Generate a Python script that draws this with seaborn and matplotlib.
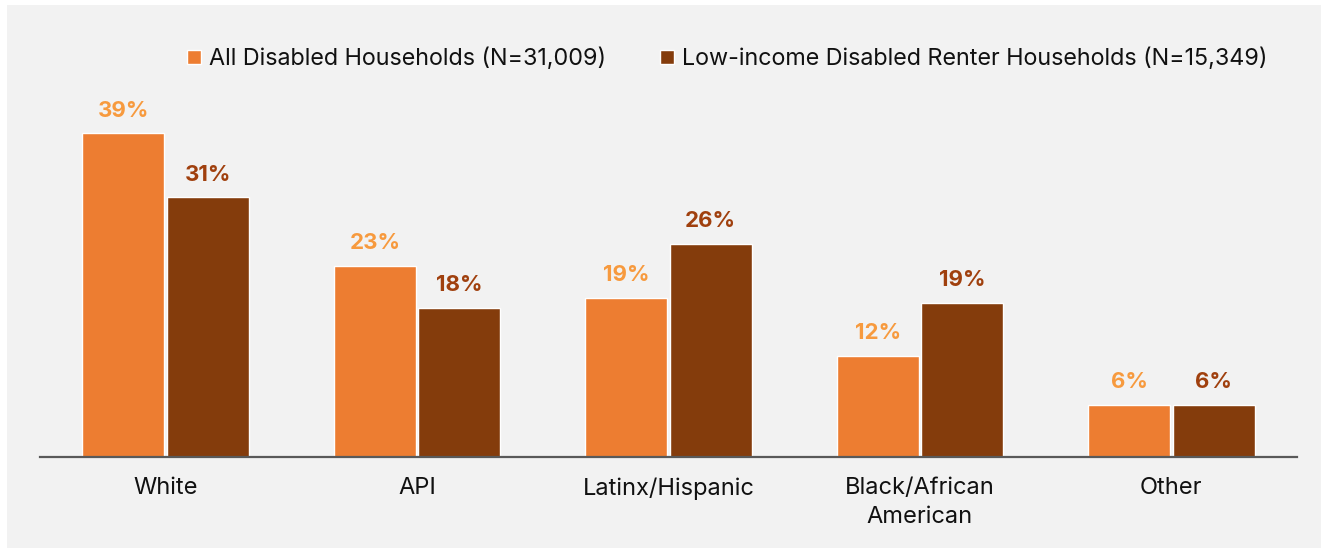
import matplotlib
matplotlib.use("Agg")
import matplotlib.pyplot as plt
from matplotlib.patches import Rectangle
import seaborn as sns
import pandas as pd

categories = ["White", "API", "Latinx/Hispanic", "Black/African\nAmerican", "Other"]
series_names = ["All Disabled Households (N=31,009)",
                "Low-income Disabled Renter Households (N=15,349)"]
all_disabled = [39.0, 23.0, 19.2, 12.2, 6.3]
low_income_renters = [31.3, 17.95, 25.7, 18.55, 6.3]

bar_colors = ["#ED7D31", "#843C0C"]
label_colors = ["#F79A3E", "#A0400E"]

df = pd.DataFrame({
    "category": categories * 2,
    "series": [series_names[0]] * len(categories) + [series_names[1]] * len(categories),
    "value": all_disabled + low_income_renters,
})

sns.set_theme(style="white")
plt.rcParams["font.family"] = ["Inter", "DejaVu Sans"]

W, H = 1321, 548
fig = plt.figure(figsize=(W / 100, H / 100), dpi=100, facecolor="white")
fig.patches.append(Rectangle((7 / W, 0), 1 - 7 / W, 1 - 5 / H, transform=fig.transFigure,
                             facecolor="#F2F2F2", edgecolor="none", zorder=-10))

ax_left, ax_right = 40 / W, 1297 / W
ax_bottom = (H - 457) / H
ax_top = (H - 83.5) / H
ax = fig.add_axes([ax_left, ax_bottom, ax_right - ax_left, ax_top - ax_bottom])
ax.set_facecolor("none")

sns.barplot(data=df, x="category", y="value", hue="series", order=categories,
            hue_order=series_names, palette=bar_colors, width=0.672, gap=0.03,
            saturation=1, ax=ax, legend=True)

ax.set_xlim(-0.5, 4.5)
ax.set_ylim(0, 45)
ax.set_xlabel("")
ax.set_ylabel("")
ax.set_yticks([])
for s in ["top", "left", "right"]:
    ax.spines[s].set_visible(False)
ax.spines["bottom"].set_color("#595959")
ax.spines["bottom"].set_linewidth(1.6)
ax.tick_params(axis="x", length=0, pad=14.5, labelsize=17, labelcolor="#111111")
for t in ax.get_xticklabels():
    t.set_linespacing(1.42)

for cont, lc in zip(ax.containers, label_colors):
    for bar in cont:
        h = bar.get_height()
        ax.annotate(f"{round(h):d}%", (bar.get_x() + bar.get_width() / 2, h),
                    xytext=(0, 12), textcoords="offset points", ha="center",
                    va="baseline", fontsize=16, fontweight="bold", color=lc)

handles, labels = ax.get_legend_handles_labels()
ax.get_legend().remove()
fig.legend(handles, labels, loc="center", bbox_to_anchor=(727 / W, 1 - 59 / H),
           ncol=2, frameon=False, fontsize=16.8, handlelength=0.6, handleheight=0.6,
           handletextpad=0.35, columnspacing=2.3, labelcolor="#111111")

fig.savefig("out.png", dpi=100, facecolor=fig.get_facecolor())
